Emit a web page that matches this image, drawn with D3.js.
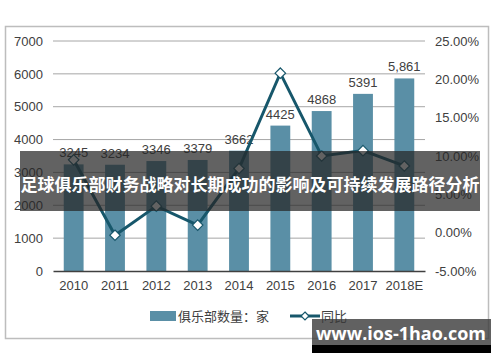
<!DOCTYPE html>
<html>
<head>
<meta charset="utf-8">
<script src="https://cdn.jsdelivr.net/npm/d3@7"></script>
<style>
  body { margin: 0; background: #fff; }
  svg { font-family: "Liberation Sans", Arial, "Noto Sans CJK SC", sans-serif; }
</style>
</head>
<body>
<div id="chart"></div>
<script>
// data
const years = ["2010", "2011", "2012", "2013", "2014", "2015", "2016", "2017", "2018E"];
const clubs = [3245, 3234, 3346, 3379, 3662, 4425, 4868, 5391, 5861];
const clubLabels = ["3245", "3234", "3346", "3379", "3662", "4425", "4868", "5391", "5,861"];
const growth = [9.5, -0.34, 3.46, 0.99, 8.37, 20.8, 10.0, 10.7, 8.7];
const leftTicks = [0, 1000, 2000, 3000, 4000, 5000, 6000, 7000];
const rightTicks = [-5, 0, 5, 10, 15, 20, 25];

const W = 500, H = 362;
const margin = {top: 41, right: 75, bottom: 91, left: 53};
const width = W - margin.left - margin.right;
const height = H - margin.top - margin.bottom;

const svg = d3.select("#chart").append("svg")
  .attr("width", W)
  .attr("height", H);

// outer frame
svg.append("rect")
  .attr("x", 5.5).attr("y", 26.5)
  .attr("width", 483).attr("height", 312)
  .attr("fill", "none")
  .attr("stroke", "#bdbdbd")
  .attr("stroke-width", 1.5);

const g = svg.append("g")
  .attr("transform", "translate(" + margin.left + "," + margin.top + ")");

const x = d3.scaleBand()
  .domain(years)
  .range([0, width])
  .paddingInner(0.52)
  .paddingOuter(0.26);

const y = d3.scaleLinear().domain([0, 7000]).range([height, 0]);
const y2 = d3.scaleLinear().domain([-5, 25]).range([height, 0]);

// gridlines
g.append("g")
  .selectAll("line")
  .data(leftTicks.slice(1))
  .enter()
  .append("line")
  .attr("x1", 0).attr("x2", width)
  .attr("y1", d => y(d)).attr("y2", d => y(d))
  .attr("stroke", "#a6a6a6")
  .attr("stroke-width", 1);

// left axis
const leftAxis = g.append("g")
  .call(d3.axisLeft(y).tickValues(leftTicks).tickSize(0).tickPadding(10)
    .tickFormat(d3.format("d")));
leftAxis.select(".domain").remove();
leftAxis.selectAll("text")
  .attr("font-size", 13)
  .attr("fill", "#404040");

// right axis
const rightAxis = g.append("g")
  .attr("transform", "translate(" + width + ",0)")
  .call(d3.axisRight(y2).tickValues(rightTicks).tickSize(0).tickPadding(10)
    .tickFormat(d => d.toFixed(2) + "%"));
rightAxis.select(".domain").remove();
rightAxis.selectAll("text")
  .attr("font-size", 13)
  .attr("fill", "#404040");

// bars
g.append("g")
  .selectAll("rect")
  .data(clubs)
  .enter()
  .append("rect")
  .attr("x", (d, i) => x(years[i]))
  .attr("y", d => y(d))
  .attr("width", x.bandwidth())
  .attr("height", d => height - y(d))
  .attr("fill", "#5a8fa6");

// bar labels
g.append("g")
  .selectAll("text")
  .data(clubs)
  .enter()
  .append("text")
  .attr("x", (d, i) => x(years[i]) + x.bandwidth() / 2)
  .attr("y", d => y(d) - 7)
  .attr("text-anchor", "middle")
  .attr("font-size", 13)
  .attr("fill", "#404040")
  .text((d, i) => clubLabels[i]);

// bottom axis
const bottomAxis = g.append("g")
  .attr("transform", "translate(0," + height + ")")
  .call(d3.axisBottom(x).tickSize(0).tickPadding(10));
bottomAxis.select(".domain")
  .attr("stroke", "#404040")
  .attr("stroke-width", 1.3);
bottomAxis.selectAll("text")
  .attr("font-size", 13)
  .attr("fill", "#404040");

// growth line
const cx = i => x(years[i]) + x.bandwidth() / 2;
const line = d3.line()
  .x((d, i) => cx(i))
  .y(d => y2(d));

g.append("path")
  .datum(growth)
  .attr("d", line)
  .attr("fill", "none")
  .attr("stroke", "#17576b")
  .attr("stroke-width", 3);

const diamond = d3.symbol().type(d3.symbolDiamond2).size(70);
g.append("g")
  .selectAll("path")
  .data(growth)
  .enter()
  .append("path")
  .attr("d", diamond)
  .attr("transform", (d, i) => "translate(" + cx(i) + "," + y2(d) + ")")
  .attr("fill", "#fff")
  .attr("stroke", "#17576b")
  .attr("stroke-width", 1.2);

// legend
const legend = svg.append("g").attr("transform", "translate(0,316)");
legend.append("rect")
  .attr("x", 150).attr("y", -5)
  .attr("width", 26).attr("height", 10)
  .attr("fill", "#5a8fa6");
legend.append("text")
  .attr("x", 178).attr("y", 5)
  .attr("font-size", 13)
  .attr("fill", "#404040")
  .text("俱乐部数量：家");
legend.append("line")
  .attr("x1", 290).attr("x2", 320)
  .attr("y1", 0).attr("y2", 0)
  .attr("stroke", "#17576b")
  .attr("stroke-width", 3);
legend.append("path")
  .attr("d", d3.symbol().type(d3.symbolDiamond2).size(40))
  .attr("transform", "translate(305,0)")
  .attr("fill", "#fff")
  .attr("stroke", "#17576b")
  .attr("stroke-width", 1.2);
legend.append("text")
  .attr("x", 321).attr("y", 5)
  .attr("font-size", 13)
  .attr("fill", "#404040")
  .text("同比");

// title banner over the chart
svg.append("rect")
  .attr("x", 20).attr("y", 151)
  .attr("width", 460).attr("height", 60)
  .attr("fill", "#262626")
  .attr("opacity", 0.72);
svg.append("text")
  .attr("x", 250).attr("y", 191)
  .attr("text-anchor", "middle")
  .attr("font-family", "'Noto Sans CJK SC', sans-serif")
  .attr("font-weight", "bold")
  .attr("font-size", 17)
  .attr("fill", "#fff")
  .text("足球俱乐部财务战略对长期成功的影响及可持续发展路径分析");

// watermark
svg.append("rect")
  .attr("x", 312).attr("y", 319)
  .attr("width", 179).attr("height", 26)
  .attr("fill", "#3a3a3a")
  .attr("opacity", 0.8);
svg.append("rect")
  .attr("x", 312).attr("y", 345)
  .attr("width", 179).attr("height", 8)
  .attr("fill", "#000");
svg.append("text")
  .attr("x", 401).attr("y", 340)
  .attr("text-anchor", "middle")
  .attr("font-family", "'Open Sans', sans-serif")
  .attr("font-weight", "bold")
  .attr("font-size", 18)
  .attr("fill", "#fff")
  .text("www.ios-1hao.com");
</script>
</body>
</html>
